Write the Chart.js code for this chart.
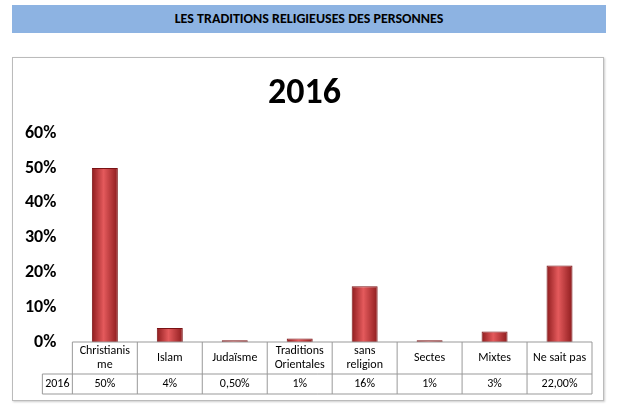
<!DOCTYPE html>
<html><head><meta charset="utf-8">
<script src="https://cdn.jsdelivr.net/npm/chart.js@4"></script>
<style>
body{margin:0;background:#fff;font-family:Calibri,"Liberation Sans",Arial,sans-serif;}
#hdr{position:absolute;left:12px;top:5px;width:594px;height:28px;background:#8db3e2;text-align:center;font-weight:bold;font-size:14px;line-height:28px;color:#000;}
#frame{position:absolute;left:12px;top:57px;width:590px;height:342px;border:1px solid #bbb;box-shadow:1px 1px 2px #ccc;}
canvas{position:absolute;left:0;top:0;}
</style></head><body>
<div id="hdr">LES TRADITIONS RELIGIEUSES DES PERSONNES</div>
<div id="frame"><canvas id="c" width="590" height="342"></canvas></div>
<script>
const categories = [['Christianis','me'],['Islam'],['Judaïsme'],['Traditions','Orientales'],['sans','religion'],['Sectes'],['Mixtes'],['Ne sait pas']];
const values = [50, 4, 0.5, 1, 16, 0.5, 3, 22];
const valueLabels = ['50%','4%','0,50%','1%','16%','1%','3%','22,00%'];
const seriesName = '2016';
const yTicks = [0,10,20,30,40,50,60];

const tablePlugin = {
  id: 'table',
  afterDraw(chart) {
    const {ctx, scales: {x}, chartArea: a} = chart;
    const top = a.bottom, mid = top + 32, bot = mid + 20;
    const step = x.getPixelForValue(1) - x.getPixelForValue(0);
    const left = a.left, right = a.right, legL = left - 30;
    ctx.save();
    ctx.strokeStyle = '#999'; ctx.lineWidth = 1;
    ctx.beginPath();
    ctx.moveTo(left, top); ctx.lineTo(right, top);
    ctx.moveTo(legL, mid); ctx.lineTo(right, mid);
    ctx.moveTo(legL, bot); ctx.lineTo(right, bot);
    ctx.moveTo(legL, mid); ctx.lineTo(legL, bot);
    for (let i = 0; i <= categories.length; i++) {
      const px = x.getPixelForValue(i) - step / 2;
      ctx.moveTo(px, top); ctx.lineTo(px, bot);
    }
    ctx.stroke();
    ctx.fillStyle = '#000'; ctx.font = '12px Calibri, "Liberation Sans", sans-serif';
    ctx.textAlign = 'center'; ctx.textBaseline = 'middle';
    categories.forEach((c, i) => {
      const cx = x.getPixelForValue(i);
      const y0 = top + 16 - (c.length - 1) * 7;
      c.forEach((t, j) => ctx.fillText(t, cx, y0 + j * 14));
      ctx.fillText(valueLabels[i], cx, mid + 10);
    });
    ctx.fillText(seriesName, (legL + left) / 2, mid + 10);
    ctx.restore();
  }
};

new Chart(document.getElementById('c'), {
  type: 'bar',
  data: {
    labels: categories.map(c => c.join(' ')),
    datasets: [{
      label: seriesName,
      data: values,
      backgroundColor: ctx => {
        const x = ctx.chart.scales.x;
        if (!x || ctx.dataIndex === undefined) return '#c8373a';
        const cx = x.getPixelForValue(ctx.dataIndex);
        const w = (x.getPixelForValue(1) - x.getPixelForValue(0)) * 0.4;
        if (!isFinite(cx) || !isFinite(w)) return '#c8373a';
        const g = ctx.chart.ctx.createLinearGradient(cx - w / 2, 0, cx + w / 2, 0);
        g.addColorStop(0, '#8e1c1e'); g.addColorStop(0.45, '#e45a5c'); g.addColorStop(1, '#8e1c1e');
        return g;
      },
      borderColor: '#7a1214', borderWidth: 1,
      barPercentage: 0.4, categoryPercentage: 1
    }]
  },
  options: {
    responsive: false, animation: false,
    layout: { padding: { left: 4, right: 11, bottom: 58, top: 0 } },
    plugins: {
      legend: { display: false }, tooltip: { enabled: false },
      title: { display: true, text: '2016', color: '#000', font: { size: 36, weight: 'bold', family: 'Calibri, "Liberation Sans", sans-serif' }, padding: { top: 14, bottom: 18 } }
    },
    scales: {
      x: { display: false },
      y: {
        min: 0, max: 60,
        afterBuildTicks: ax => { ax.ticks = yTicks.map(v => ({ value: v })); },
        grid: { display: false }, border: { display: false },
        ticks: { color: '#000', callback: v => v + '%', padding: 8, font: { size: 18, weight: 'bold', family: 'Calibri, "Liberation Sans", sans-serif' } }
      }
    }
  },
  plugins: [tablePlugin]
});
</script>
</body></html>
